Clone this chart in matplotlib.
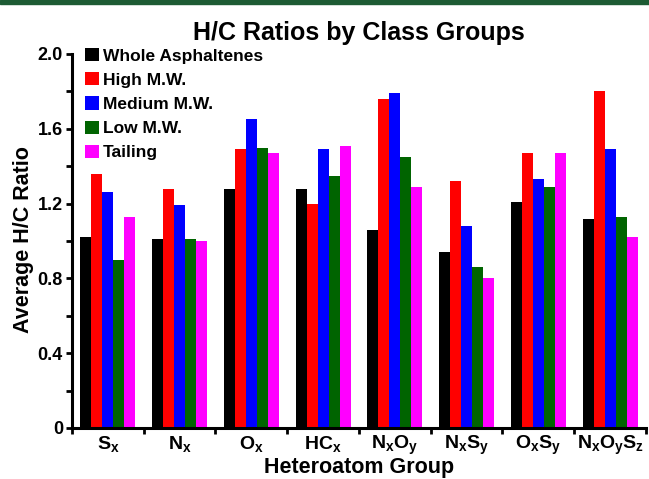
import matplotlib
matplotlib.use('Agg')
from matplotlib import pyplot as plt
from matplotlib.patches import Rectangle
import numpy as np

plt.rcParams['font.family'] = ['Liberation Sans', 'DejaVu Sans']
plt.rcParams['font.weight'] = 'bold'
plt.rcParams['mathtext.fontset'] = 'custom'
plt.rcParams['mathtext.rm'] = 'Liberation Sans:bold'
plt.rcParams['mathtext.it'] = 'Liberation Sans:bold'
plt.rcParams['mathtext.bf'] = 'Liberation Sans:bold'
plt.rcParams['mathtext.default'] = 'bf'

groups = [r'S$_x$', r'N$_x$', r'O$_x$', r'HC$_x$', r'N$_x$O$_y$',
          r'N$_x$S$_y$', r'O$_x$S$_y$', r'N$_x$O$_y$S$_z$']
series = ['Whole Asphaltenes', 'High M.W.', 'Medium M.W.', 'Low M.W.', 'Tailing']
colors = ['#000000', '#ff0000', '#0000ff', '#006400', '#ff00ff']

whole = [1.02, 1.01, 1.28, 1.28, 1.06, 0.94, 1.21, 1.12]
high_mw = [1.36, 1.28, 1.49, 1.20, 1.76, 1.32, 1.47, 1.80]
medium_mw = [1.26, 1.19, 1.65, 1.49, 1.79, 1.08, 1.33, 1.49]
low_mw = [0.90, 1.01, 1.50, 1.35, 1.45, 0.86, 1.29, 1.13]
tailing = [1.13, 1.00, 1.47, 1.51, 1.29, 0.80, 1.47, 1.02]
values = [whole, high_mw, medium_mw, low_mw, tailing]

W, H = 649, 479
fig = plt.figure(figsize=(W / 100, H / 100), dpi=100)
ax = fig.add_axes([72 / W, 51 / H, 574 / W, 374 / H])

# green band across the top edge
fig.patches.append(Rectangle((0, 1 - 4 / H), 1, 4 / H, transform=fig.transFigure,
                             color='#1d5b34', zorder=10))

x = np.arange(len(groups))
bw = 0.153
start = 0.5 - 2.5 * bw
for k, (name, vals) in enumerate(zip(series, values)):
    ax.bar(x + start + k * bw, vals, width=bw, align='edge', color=colors[k],
           label=name, linewidth=0)

ax.set_xlim(0, len(groups))
ax.set_ylim(0, 2.0)

for side in ['top', 'right']:
    ax.spines[side].set_visible(False)
for side in ['left', 'bottom']:
    ax.spines[side].set_linewidth(2.2)

ax.set_yticks(np.arange(0, 2.01, 0.4))
ax.set_yticklabels(['0', '0.4', '0.8', '1.2', '1.6', '2.0'])
ax.set_yticks(np.arange(0.2, 2.0, 0.4), minor=True)
ax.tick_params(axis='y', which='both', direction='out', length=4.5, width=2, labelsize=13, pad=2)

ax.set_xticks(np.arange(0, len(groups) + 1))
ax.set_xticklabels([])
ax.set_xticks(x + 0.5, minor=True)
ax.set_xticklabels(groups, minor=True)
ax.tick_params(axis='x', which='major', direction='out', length=4.5, width=2)
ax.tick_params(axis='x', which='minor', length=0, labelsize=14, pad=4)

ax.legend(loc='upper left', bbox_to_anchor=(0.022, 1.016), frameon=False, fontsize=12.5,
          handlelength=0.8, handleheight=0.8, handletextpad=0.25, labelspacing=0.49,
          borderpad=0, borderaxespad=0)

fig.text(359 / W, 1 - 33 / H, 'H/C Ratios by Class Groups', ha='center', va='center',
         fontsize=18, fontweight='bold')
fig.text(24 / W, 1 - 240 / H, 'Average H/C Ratio', ha='center', va='center',
         rotation=90, fontsize=15.5, fontweight='bold')
fig.text(359 / W, 1 - 468 / H, 'Heteroatom Group', ha='center', va='center',
         fontsize=15.5, fontweight='bold')

fig.savefig('out.png', dpi=100)
